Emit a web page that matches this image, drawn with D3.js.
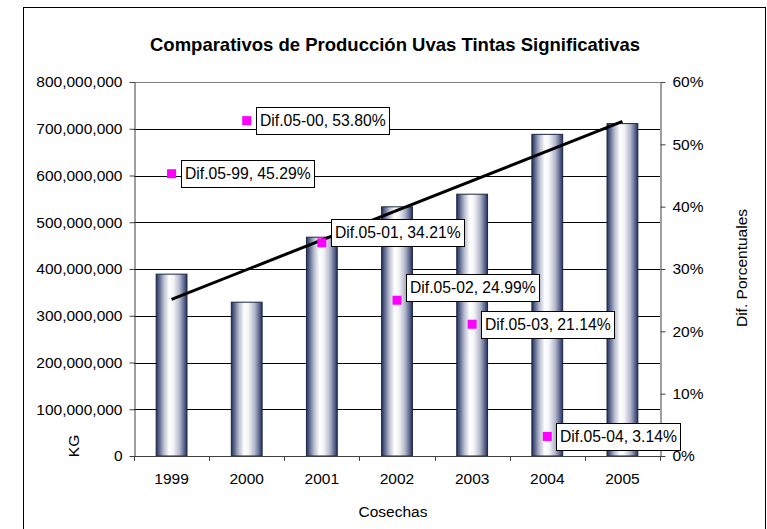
<!DOCTYPE html>
<html>
<head>
<meta charset="utf-8">
<script src="https://cdn.jsdelivr.net/npm/d3@7"></script>
<style>
  html, body { margin: 0; padding: 0; background: #fff; }
  svg { display: block; font-family: "Liberation Sans", Arial, sans-serif; }
</style>
</head>
<body>
<svg id="chart" width="767" height="529"></svg>
<script>
// ---- data ----
const years = ["1999", "2000", "2001", "2002", "2003", "2004", "2005"];
const production = [389000000, 329000000, 468000000, 533000000, 560000000, 688000000, 711000000];
const diffYears = ["1999", "2000", "2001", "2002", "2003", "2004"];
const diffValues = [0.4529, 0.5380, 0.3421, 0.2499, 0.2114, 0.0314];
const diffNames = ["Dif.05-99", "Dif.05-00", "Dif.05-01", "Dif.05-02", "Dif.05-03", "Dif.05-04"];
const leftTicks = [0, 100000000, 200000000, 300000000, 400000000, 500000000, 600000000, 700000000, 800000000];
const rightTicks = [0, 0.1, 0.2, 0.3, 0.4, 0.5, 0.6];
const title = "Comparativos de Producción Uvas Tintas Significativas";
const xTitle = "Cosechas";
const yTitle = "KG";
const y2Title = "Dif. Porcentuales";

// label layout tweaks (vertical shifts of the data label boxes)
const labelShift = [0, 0, -10, -13, 0, 0];

// ---- layout ----
const plot = { left: 134, right: 660, top: 82, bottom: 456 };
const svg = d3.select("#chart");

// outer frame
svg.append("rect").attr("x", 23.5).attr("y", 7.5).attr("width", 742).attr("height", 540)
  .attr("fill", "#fff").attr("stroke", "#000").attr("stroke-width", 1);

const x = d3.scaleBand().domain(years).range([plot.left, plot.right]).padding(0);
const y = d3.scaleLinear().domain([0, 800000000]).range([plot.bottom, plot.top]);
const y2 = d3.scaleLinear().domain([0, 0.6]).range([plot.bottom, plot.top]);

// gradient for bars
const defs = svg.append("defs");
const grad = defs.append("linearGradient").attr("id", "barGrad")
  .attr("x1", "0%").attr("x2", "100%").attr("y1", "0%").attr("y2", "0%");
[["0%", "#26325a"], ["8%", "#505c84"], ["24%", "#b4b9cc"], ["42%", "#ffffff"], ["56%", "#f3f4f7"],
 ["76%", "#b2b7ca"], ["92%", "#55608a"], ["100%", "#26325a"]].forEach(([o, c]) =>
  grad.append("stop").attr("offset", o).attr("stop-color", c));

// gridlines
svg.append("g").selectAll("line").data(leftTicks.filter(d => d > 0)).join("line")
  .attr("x1", plot.left).attr("x2", plot.right)
  .attr("y1", d => Math.round(y(d)) + 0.5).attr("y2", d => Math.round(y(d)) + 0.5)
  .attr("stroke", d => d === 800000000 ? "#808080" : "#000").attr("stroke-width", 1);

// bars
const barW = x.bandwidth() * 0.41;
svg.append("g").selectAll("rect").data(years).join("rect")
  .attr("x", (d) => x(d) + x.bandwidth() / 2 - barW / 2)
  .attr("y", (d, i) => y(production[i]))
  .attr("width", barW)
  .attr("height", (d, i) => y(0) - y(production[i]))
  .attr("fill", "url(#barGrad)")
  .attr("stroke", "#1c2544").attr("stroke-width", 1);

// left axis
const axL = svg.append("g").attr("transform", `translate(${plot.left + 0.5},0)`)
  .call(d3.axisLeft(y).tickValues(leftTicks).tickFormat(d3.format(",")).tickSize(5).tickSizeOuter(0).tickPadding(7));
axL.select(".domain").attr("stroke", "#404040");
axL.selectAll(".tick line").attr("stroke", "#404040");
axL.selectAll("text").attr("font-size", "15.5px").attr("fill", "#000")
  .attr("font-family", '"Liberation Sans", Arial, sans-serif');

// right axis
const axR = svg.append("g").attr("transform", `translate(${plot.right + 0.5},0)`)
  .call(d3.axisRight(y2).tickValues(rightTicks).tickFormat(d3.format(".0%")).tickSize(5).tickSizeOuter(0).tickPadding(7));
axR.select(".domain").attr("stroke", "#404040");
axR.selectAll(".tick line").attr("stroke", "#404040");
axR.selectAll("text").attr("font-size", "15.5px").attr("fill", "#000")
  .attr("font-family", '"Liberation Sans", Arial, sans-serif');

// bottom axis (ticks between categories)
const axB = svg.append("g");
axB.append("line").attr("x1", plot.left).attr("x2", plot.right)
  .attr("y1", plot.bottom + 0.5).attr("y2", plot.bottom + 0.5).attr("stroke", "#404040");
const boundaries = years.map(d => x(d)).concat([x(years[years.length - 1]) + x.bandwidth()]);
axB.selectAll("line.tk").data(boundaries).join("line").attr("class", "tk")
  .attr("x1", d => Math.round(d) + 0.5).attr("x2", d => Math.round(d) + 0.5)
  .attr("y1", plot.bottom).attr("y2", plot.bottom + 5).attr("stroke", "#404040");
axB.selectAll("text").data(years).join("text")
  .attr("x", d => x(d) + x.bandwidth() / 2).attr("y", 484)
  .attr("text-anchor", "middle").attr("font-size", "15.5px").text(d => d);

// trendline (linear regression of production)
const n = production.length;
const xs = d3.range(n);
const mx = d3.mean(xs), my = d3.mean(production);
const slope = d3.sum(xs, i => (i - mx) * (production[i] - my)) / d3.sum(xs, i => (i - mx) * (i - mx));
const icpt = my - slope * mx;
svg.append("line")
  .attr("x1", x(years[0]) + x.bandwidth() / 2).attr("y1", y(icpt))
  .attr("x2", x(years[n - 1]) + x.bandwidth() / 2).attr("y2", y(icpt + slope * (n - 1)))
  .attr("stroke", "#000").attr("stroke-width", 3);

// markers & labels
const ms = 9;
const lg = svg.append("g");
diffYears.forEach((yr, i) => {
  const cx = x(yr) + x.bandwidth() / 2;
  const cy = y2(diffValues[i]);
  lg.append("rect").attr("x", cx - ms / 2).attr("y", cy - ms / 2).attr("width", ms).attr("height", ms)
    .attr("fill", "#ff00ff");
  const g = lg.append("g");
  const box = g.append("rect").attr("fill", "#fff").attr("stroke", "#000").attr("stroke-width", 1);
  const t = g.append("text").attr("font-size", "15.7px")
    .text(`${diffNames[i]}, ${d3.format(".2%")(diffValues[i])}`);
  const tw = t.node().getComputedTextLength();
  const bx = cx + 9, bh = 27, by = cy - bh / 2 + labelShift[i];
  box.attr("x", Math.round(bx) + 0.5).attr("y", Math.round(by) + 0.5).attr("width", Math.round(tw + 7)).attr("height", bh);
  t.attr("x", Math.round(bx) + 4).attr("y", by + bh / 2 + 5.5);
});

// titles
svg.append("text").attr("x", 395).attr("y", 51).attr("text-anchor", "middle")
  .attr("font-size", "18.5px").attr("font-weight", "bold").text(title);
svg.append("text").attr("x", 393).attr("y", 517).attr("text-anchor", "middle")
  .attr("font-size", "15.5px").text(xTitle);
svg.append("text").attr("transform", "translate(79,446) rotate(-90)").attr("text-anchor", "middle")
  .attr("font-size", "15.5px").text(yTitle);
svg.append("text").attr("transform", "translate(747,268) rotate(-90)").attr("text-anchor", "middle")
  .attr("font-size", "15.5px").text(y2Title);
</script>
</body>
</html>
